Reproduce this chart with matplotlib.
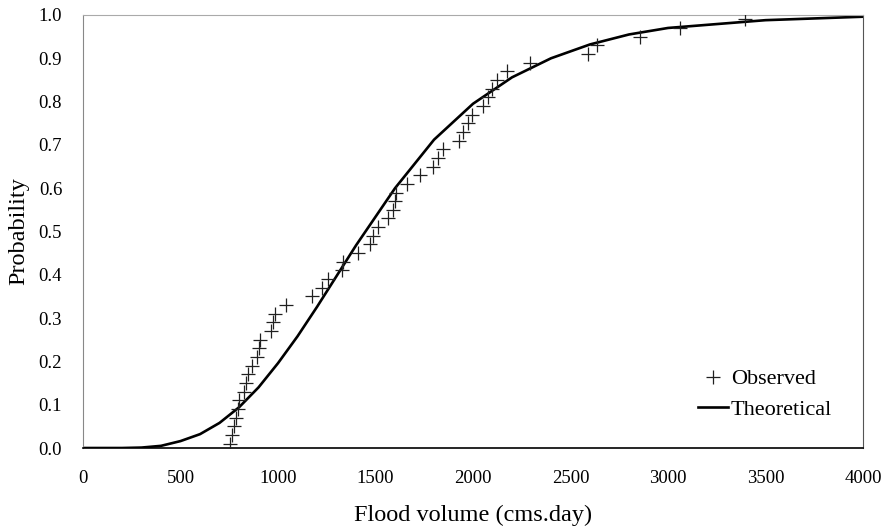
import matplotlib
matplotlib.use("Agg")
import matplotlib.pyplot as plt

plt.rcParams['font.family'] = ['Liberation Serif', 'DejaVu Serif']

# observed flood volumes and their plotting positions
obs_volume = [755, 766, 773, 783, 795, 802, 825, 837, 848, 865,
              890, 900, 910, 965, 975, 982, 1040, 1172, 1224, 1258,
              1327, 1335, 1412, 1472, 1489, 1514, 1566, 1591, 1600, 1604,
              1660, 1728, 1796, 1822, 1848, 1930, 1950, 1976, 1993, 2053,
              2079, 2096, 2121, 2172, 2292, 2590, 2636, 2856, 3062, 3395]
obs_prob = [0.01, 0.03, 0.05, 0.07, 0.09, 0.11, 0.13, 0.15, 0.17, 0.19,
            0.21, 0.23, 0.25, 0.27, 0.29, 0.31, 0.33, 0.35, 0.37, 0.39,
            0.41, 0.43, 0.45, 0.47, 0.49, 0.51, 0.53, 0.55, 0.57, 0.59,
            0.61, 0.63, 0.65, 0.67, 0.69, 0.71, 0.73, 0.75, 0.77, 0.79,
            0.81, 0.83, 0.85, 0.87, 0.89, 0.91, 0.93, 0.95, 0.97, 0.99]

# fitted distribution
theo_volume = [0, 200, 300, 400, 500, 600, 700, 800, 900, 1000, 1100, 1200,
               1400, 1600, 1800, 2000, 2200, 2400, 2600, 2800, 3000, 3500, 4000]
theo_prob = [0.0, 0.0, 0.001, 0.005, 0.016, 0.032, 0.058, 0.094, 0.14, 0.196,
             0.258, 0.326, 0.468, 0.6, 0.712, 0.795, 0.856, 0.9, 0.932, 0.955,
             0.97, 0.988, 0.996]

x_ticks = [0, 500, 1000, 1500, 2000, 2500, 3000, 3500, 4000]
y_ticks = [0.0, 0.1, 0.2, 0.3, 0.4, 0.5, 0.6, 0.7, 0.8, 0.9, 1.0]

fig = plt.figure(figsize=(8.91, 5.31), dpi=100)
ax = fig.add_axes([0.0932, 0.1563, 0.8754, 0.8155])

ax.plot(obs_volume, obs_prob, linestyle='none', marker='+', color='#202020',
        markersize=10, markeredgewidth=0.9, label='Observed', zorder=3)
ax.plot(theo_volume, theo_prob, color='black', lw=1.9, label='Theoretical', zorder=2)

ax.set_xlim(0, 4000)
ax.set_ylim(0, 1.0)
ax.set_xticks(x_ticks)
ax.set_yticks(y_ticks)
ax.set_yticklabels([f'{v:.1f}' for v in y_ticks])
ax.tick_params(axis='both', length=0, labelsize=13.5)
ax.tick_params(axis='y', pad=15)
ax.tick_params(axis='x', pad=16)

ax.spines['left'].set_color('#888888')
ax.spines['top'].set_color('#aaaaaa')
ax.spines['right'].set_color('#555555')
ax.spines['bottom'].set_color('black')
ax.spines['bottom'].set_linewidth(1.2)

ax.set_xlabel('Flood volume (cms.day)', fontsize=17.5, labelpad=13)
ax.set_ylabel('Probability', fontsize=17.5, labelpad=7)

ax.legend(loc='upper left', bbox_to_anchor=(0.788, 0.183), frameon=False,
          borderaxespad=0, borderpad=0, fontsize=16, handlelength=1.35,
          handletextpad=0.15, labelspacing=0.45)

fig.savefig('out.png', dpi=100)
